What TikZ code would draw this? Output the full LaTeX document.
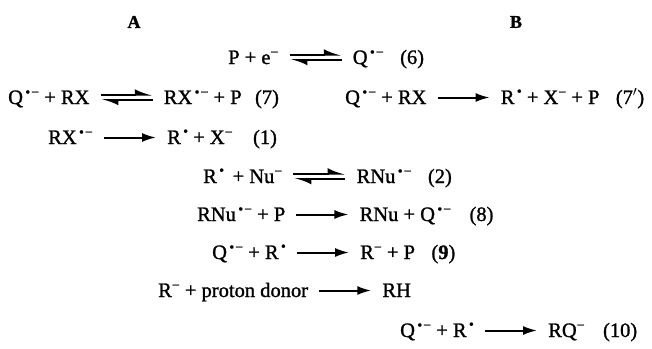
\documentclass[tikz,border=0pt]{standalone}
\usepackage{fontspec}
\setmainfont{Liberation Serif}[FakeBold=1.2]
\usetikzlibrary{arrows.meta, positioning}

% radical anion, radical and anion marks
\newcommand{\radan}{\raisebox{0.36em}{\fontsize{14}{14}\selectfont\,•\kern1pt−}}
\newcommand{\rdot}{\raisebox{0.40em}{\fontsize{14}{14}\selectfont\,•}}
\newcommand{\anion}{\raisebox{0.36em}{\fontsize{14}{14}\selectfont −}}

\begin{document}
\begin{tikzpicture}[
    x=1pt, y=-1pt,
    node distance=74pt, % reactant to product
    font=\fontsize{20.5}{24}\selectfont,
    species/.style={inner sep=0pt, anchor=base west},
    eqno/.style={inner sep=0pt},
    head/.style={font=\fontsize{18}{20}\selectfont\bfseries, inner sep=0pt},
    fwd/.style={draw, line width=2pt, -{Latex[length=14pt, width=9pt]}, shorten <=11pt, shorten >=11pt},
    harp/.style={draw, line width=2pt, -{Latex[harpoon, length=14pt, width=11pt]}, shorten <=11pt, shorten >=11pt}
]
    \useasboundingbox (0,0) rectangle (652,348);

    % column headings
    \node[head] (colA) at (134,22) {A};
    \node[head] (colB) at (516,22) {B};

    % (6)
    \node[species] (r6a) at (228,64) {P + e\anion};
    \node[species, base right=of r6a] (r6b) {Q\radan};
    \node[eqno, base right=16pt of r6b] (n6) {(6)};

    % (7), path A
    \node[species] (r7a) at (8,104) {Q\radan\ + RX};
    \node[species, base right=of r7a] (r7b) {RX\radan\ + P};
    \node[eqno, base right=13pt of r7b] (n7) {(7)};

    % (7'), path B
    \node[species] (r7pa) at (345,104) {Q\radan\ + RX};
    \node[species, base right=of r7pa] (r7pb) {R\rdot\ + X\anion\ + P};
    \node[eqno, base right=16pt of r7pb] (n7p) {(7$'$)};

    % (1)
    \node[species] (r1a) at (48,144) {RX\radan};
    \node[species, base right=of r1a] (r1b) {R\rdot\ + X\anion};
    \node[eqno, base right=20pt of r1b] (n1) {(1)};

    % (2)
    \node[species] (r2a) at (203,183) {R\rdot\ \,+ Nu\anion};
    \node[species, base right=of r2a] (r2b) {RNu\radan};
    \node[eqno, base right=16pt of r2b] (n2) {(2)};

    % (8)
    \node[species] (r8a) at (197,221) {RNu\radan\ + P};
    \node[species, base right=of r8a] (r8b) {RNu + Q\radan};
    \node[eqno, base right=18pt of r8b] (n8) {(8)};

    % (9)
    \node[species] (r9a) at (212,259) {Q\radan\ + R\rdot};
    \node[species, base right=of r9a] (r9b) {R\anion\ + P};
    \node[eqno, base right=16pt of r9b] (n9) {(\textbf{9})};

    % protonation
    \node[species] (rha) at (158,297) {R\anion\ + proton donor};
    \node[species, base right=of rha] (rhb) {RH};

    % (10)
    \node[species] (r10a) at (400,337) {Q\radan\ + R\rdot};
    \node[species, base right=of r10a] (r10b) {RQ\anion};
    \node[eqno, base right=18pt of r10b] (n10) {(10)};

    % equilibrium arrows
    \foreach \a/\b in {r6a/r6b, r7a/r7b, r2a/r2b} {
        \path[harp] ([yshift=9.5pt]\a.base east) -- ([yshift=9.5pt]\b.base west);
        \path[harp] ([yshift=4pt]\b.base west) -- ([yshift=4pt]\a.base east);
    }

    % one-way arrows
    \foreach \a/\b in {r7pa/r7pb, r1a/r1b, r8a/r8b, r9a/r9b, rha/rhb, r10a/r10b}
        \path[fwd] ([yshift=6.5pt]\a.base east) -- ([yshift=6.5pt]\b.base west);

\end{tikzpicture}
\end{document}
